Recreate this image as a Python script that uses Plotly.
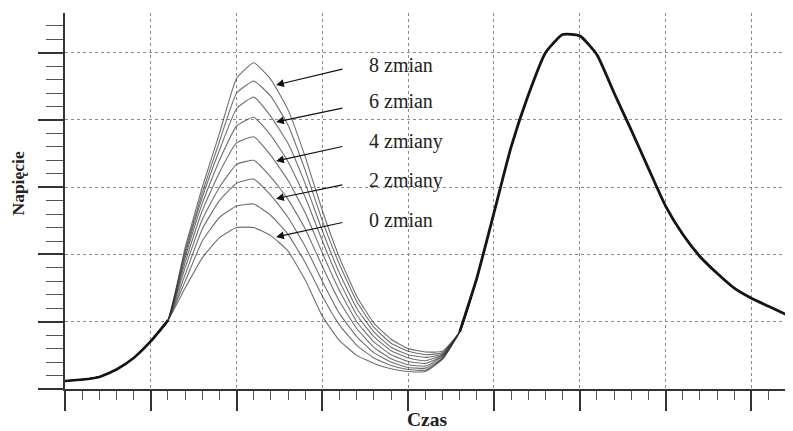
import plotly.graph_objects as go

# ---- data (arbitrary units) ----
x_start = [0.0, 0.2, 0.4, 0.6, 0.8, 1.0, 1.2]
y_start = [0.12, 0.14, 0.18, 0.29, 0.46, 0.71, 1.02]

x_mid = [1.2, 1.4, 1.6, 1.8, 2.0, 2.2, 2.4, 2.6, 2.8, 3.0, 3.2, 3.4, 3.6, 3.8, 4.0, 4.2, 4.4, 4.6]
c8 = [1.02, 2.10, 3.00, 3.80, 4.62, 4.85, 4.60, 4.15, 3.45, 2.65, 1.95, 1.38, 0.98, 0.74, 0.60, 0.55, 0.56, 0.85]
c7 = [1.02, 2.05, 2.92, 3.68, 4.40, 4.58, 4.35, 3.92, 3.25, 2.50, 1.85, 1.30, 0.92, 0.68, 0.56, 0.51, 0.54, 0.85]
c6 = [1.02, 2.00, 2.85, 3.55, 4.17, 4.34, 4.05, 3.65, 3.05, 2.35, 1.72, 1.20, 0.85, 0.62, 0.51, 0.47, 0.52, 0.85]
c5 = [1.02, 1.95, 2.76, 3.40, 3.91, 4.04, 3.77, 3.38, 2.85, 2.20, 1.60, 1.10, 0.78, 0.57, 0.46, 0.42, 0.51, 0.85]
c4 = [1.02, 1.88, 2.65, 3.22, 3.66, 3.75, 3.47, 3.10, 2.62, 2.02, 1.46, 1.00, 0.70, 0.51, 0.41, 0.38, 0.49, 0.85]
c3 = [1.02, 1.80, 2.52, 3.00, 3.34, 3.40, 3.15, 2.82, 2.38, 1.82, 1.30, 0.90, 0.62, 0.45, 0.36, 0.34, 0.48, 0.85]
c2 = [1.02, 1.70, 2.38, 2.80, 3.06, 3.12, 2.88, 2.55, 2.12, 1.60, 1.12, 0.78, 0.54, 0.40, 0.32, 0.31, 0.46, 0.85]
c1 = [1.02, 1.60, 2.20, 2.55, 2.72, 2.75, 2.58, 2.30, 1.88, 1.38, 0.95, 0.65, 0.46, 0.35, 0.29, 0.28, 0.45, 0.85]
c0 = [1.02, 1.50, 1.95, 2.25, 2.40, 2.40, 2.28, 2.05, 1.62, 1.08, 0.72, 0.50, 0.38, 0.30, 0.26, 0.26, 0.44, 0.85]
curves = [c0, c1, c2, c3, c4, c5, c6, c7, c8]

x_end = [4.6, 4.8, 5.0, 5.2, 5.4, 5.6, 5.8, 6.0, 6.2, 6.4, 6.6, 6.8, 7.0, 7.2, 7.4, 7.6, 7.8, 8.0, 8.2, 8.4, 8.48]
y_end = [0.85, 1.65, 2.62, 3.60, 4.37, 5.00, 5.27, 5.25, 4.97, 4.40, 3.85, 3.28, 2.72, 2.30, 1.97, 1.72, 1.50, 1.35, 1.23, 1.11, 1.06]

labels = ["8 zmian", "6 zmian", "4 zmiany", "2 zmiany", "0 zmian"]
label_y = [4.82, 4.28, 3.68, 3.10, 2.51]
arrow_tail_y = [4.76, 4.18, 3.61, 3.04, 2.48]
arrow_head_y = [4.52, 3.97, 3.39, 2.83, 2.26]
label_x = 3.52
arrow_tail_x = 3.25
arrow_head_x = 2.46

# page geometry: the browser body adds an 8px margin around the figure
OFF = 8
W, H = 793 - OFF, 431 - OFF
L, R, T, B = 65 - OFF, 0, 13 - OFF, H - (389 - OFF)
pw, ph = W - L - R, H - T - B

fig = go.Figure()

for c in curves:
    xs = x_start[:-1] + x_mid + x_end[1:]
    ys = y_start[:-1] + c + y_end[1:]
    fig.add_trace(go.Scatter(x=xs, y=ys, mode="lines",
                             line=dict(color="rgba(50,50,50,0.7)", width=1.1,
                                       shape="spline", smoothing=0.4),
                             hoverinfo="skip", showlegend=False))

# dense bundles where all curves overlap
fig.add_trace(go.Scatter(x=x_start, y=y_start, mode="lines",
                         line=dict(color="#151515", width=2.6, shape="spline", smoothing=0.5),
                         showlegend=False))
fig.add_trace(go.Scatter(x=x_end, y=y_end, mode="lines",
                         line=dict(color="#151515", width=2.8, shape="spline", smoothing=0.5),
                         showlegend=False))

for t, ly, ty, hy in zip(labels, label_y, arrow_tail_y, arrow_head_y):
    fig.add_annotation(x=label_x, y=ly, xref="x", yref="y", text=t, showarrow=False,
                       xanchor="left", yanchor="middle",
                       font=dict(family="Liberation Serif", size=20, color="#222"))
    fig.add_annotation(x=arrow_head_x, y=hy, ax=arrow_tail_x, ay=ty,
                       xref="x", yref="y", axref="x", ayref="y", text="",
                       showarrow=True, arrowhead=2, arrowsize=1.3, arrowwidth=1.2,
                       arrowcolor="#111")

# axis titles, positioned by window pixel centres
for txt, px, py, ang, sz in [("<b>Napięcie</b>", 17.5, 184, -90, 17.5),
                             ("<b>Czas</b>", 427, 419.5, 0, 19.5)]:
    fig.add_annotation(x=(px - OFF - L) / pw, y=(H - B - (py - OFF)) / ph,
                       xref="paper", yref="paper", text=txt, textangle=ang,
                       showarrow=False, xanchor="center", yanchor="middle",
                       font=dict(family="Liberation Serif", size=sz, color="#222"))

fig.update_xaxes(range=[0, 8.485], showgrid=True, gridcolor="#8a8a8a", griddash="dot",
                 gridwidth=1, zeroline=False, showline=True, linecolor="#333", linewidth=2,
                 ticks="outside", ticklen=20, tickwidth=2, tickcolor="#333", dtick=1, tick0=0,
                 showticklabels=False, automargin=False,
                 minor=dict(dtick=0.2, tick0=0, ticks="outside", ticklen=9, tickwidth=1.2,
                            tickcolor="#555", showgrid=False))
fig.update_yaxes(range=[0, 5.59], showgrid=True, gridcolor="#8a8a8a", griddash="dot",
                 gridwidth=1, zeroline=False, showline=True, linecolor="#333", linewidth=2,
                 ticks="outside", ticklen=25, tickwidth=2, tickcolor="#333", dtick=1, tick0=0,
                 showticklabels=False, automargin=False,
                 minor=dict(dtick=0.2, tick0=0, ticks="outside", ticklen=17, tickwidth=1.2,
                            tickcolor="#555", showgrid=False))

fig.update_layout(width=W, height=H, margin=dict(l=L, r=R, t=T, b=B, autoexpand=False),
                  plot_bgcolor="white", paper_bgcolor="white", showlegend=False)

fig.write_html("out.html")
